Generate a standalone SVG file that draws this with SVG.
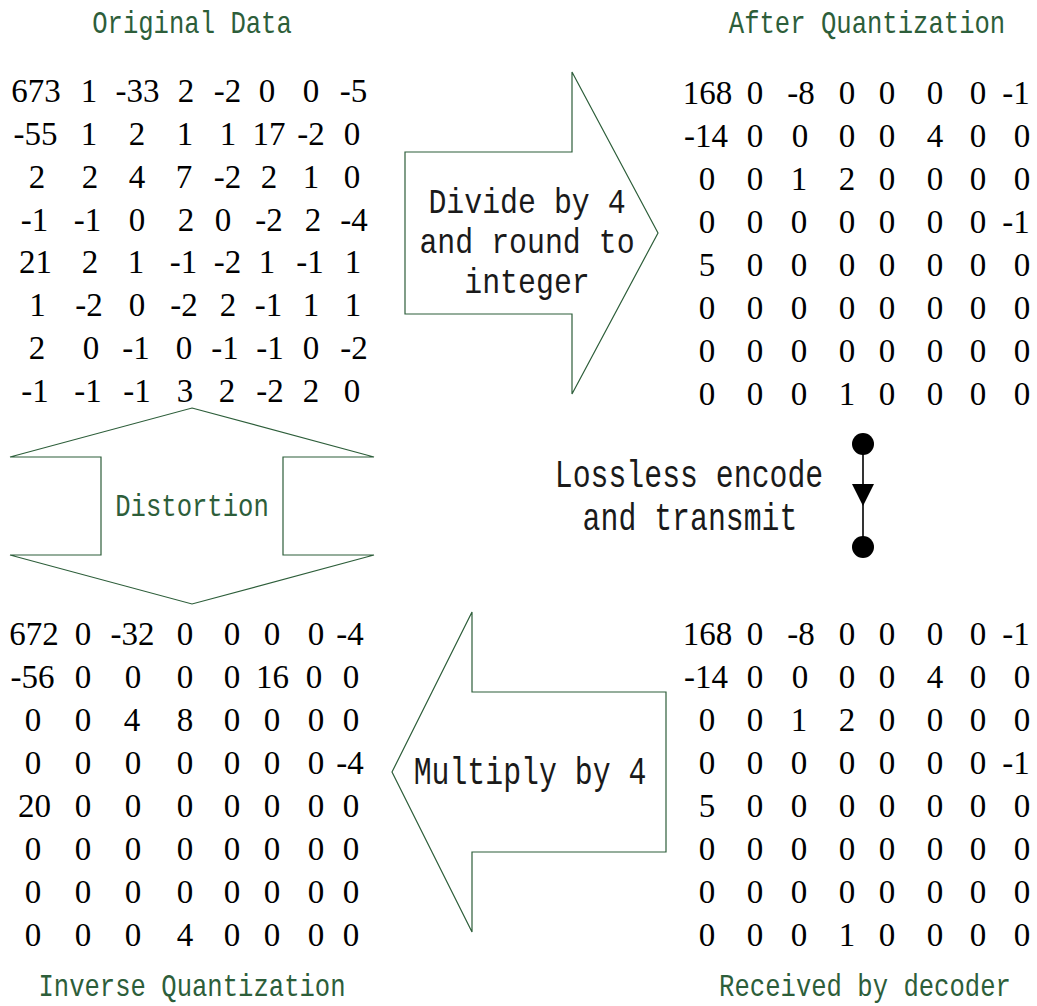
<svg xmlns="http://www.w3.org/2000/svg" width="1037" height="1006" viewBox="0 0 1037 1006">
<defs>
<style>
.num{font-family:"Liberation Serif","Times New Roman",serif;font-size:33px;fill:#000;text-anchor:middle}
.lbl{font-family:"Liberation Mono","Courier New",monospace;font-size:32px;fill:#2d5e3a;text-anchor:middle}
.blk{font-family:"Liberation Mono","Courier New",monospace;font-size:38px;fill:#1a1a1a;text-anchor:middle}
.blk2{font-family:"Liberation Mono","Courier New",monospace;font-size:36px;fill:#1a1a1a;text-anchor:middle}
.arrow{fill:#fff;stroke:#2d5e3a;stroke-width:1.2;stroke-linejoin:miter}
.conn{stroke:#000;stroke-width:1.6;fill:none}
</style>
<marker id="dot" markerUnits="userSpaceOnUse" markerWidth="24" markerHeight="24" refX="12" refY="12" orient="0">
<circle cx="12" cy="12" r="11" fill="#000"/>
</marker>
<marker id="tri" markerUnits="userSpaceOnUse" markerWidth="24" markerHeight="24" refX="12" refY="12" orient="0">
<path d="M1,1 L23,1 L12,23 Z" fill="#000"/>
</marker>
</defs>
<rect width="1037" height="1006" fill="#fff"/>

<g id="title-original"><text class="lbl" transform="translate(192,33) scale(0.8,1)">Original Data</text></g>
<g id="title-after"><text class="lbl" transform="translate(867,33) scale(0.8,1)">After Quantization</text></g>
<g id="title-inverse"><text class="lbl" transform="translate(192,996) scale(0.8,1)">Inverse Quantization</text></g>
<g id="title-received"><text class="lbl" transform="translate(865,996) scale(0.8,1)">Received by decoder</text></g>

<g id="matrix-original">
<text class="num" y="102"><tspan x="36">673</tspan><tspan x="89">1</tspan><tspan x="137.5">-33</tspan><tspan x="186">2</tspan><tspan x="227.5">-2</tspan><tspan x="267">0</tspan><tspan x="311">0</tspan><tspan x="353.5">-5</tspan></text>
<text class="num" y="145"><tspan x="35.5">-55</tspan><tspan x="89">1</tspan><tspan x="137">2</tspan><tspan x="185">1</tspan><tspan x="228">1</tspan><tspan x="269">17</tspan><tspan x="311">-2</tspan><tspan x="352">0</tspan></text>
<text class="num" y="188"><tspan x="37">2</tspan><tspan x="90">2</tspan><tspan x="137">4</tspan><tspan x="184">7</tspan><tspan x="227.5">-2</tspan><tspan x="269">2</tspan><tspan x="311">1</tspan><tspan x="352">0</tspan></text>
<text class="num" y="231"><tspan x="34.5">-1</tspan><tspan x="87.5">-1</tspan><tspan x="137">0</tspan><tspan x="186">2</tspan><tspan x="223">0</tspan><tspan x="269">-2</tspan><tspan x="313">2</tspan><tspan x="354">-4</tspan></text>
<text class="num" y="273"><tspan x="35.5">21</tspan><tspan x="90">2</tspan><tspan x="136">1</tspan><tspan x="183.5">-1</tspan><tspan x="227.5">-2</tspan><tspan x="267">1</tspan><tspan x="310">-1</tspan><tspan x="353">1</tspan></text>
<text class="num" y="316"><tspan x="37.5">1</tspan><tspan x="89">-2</tspan><tspan x="137">0</tspan><tspan x="184">-2</tspan><tspan x="228">2</tspan><tspan x="268.5">-1</tspan><tspan x="311">1</tspan><tspan x="353">1</tspan></text>
<text class="num" y="359"><tspan x="37">2</tspan><tspan x="91">0</tspan><tspan x="136">-1</tspan><tspan x="184">0</tspan><tspan x="225">-1</tspan><tspan x="270">-1</tspan><tspan x="311">0</tspan><tspan x="354">-2</tspan></text>
<text class="num" y="402"><tspan x="35">-1</tspan><tspan x="88">-1</tspan><tspan x="137">-1</tspan><tspan x="185">3</tspan><tspan x="227">2</tspan><tspan x="270">-2</tspan><tspan x="311">2</tspan><tspan x="352">0</tspan></text>
</g>

<g id="matrix-quantized">
<text class="num" y="104"><tspan x="707.5">168</tspan><tspan x="755">0</tspan><tspan x="801">-8</tspan><tspan x="847">0</tspan><tspan x="887">0</tspan><tspan x="935">0</tspan><tspan x="978">0</tspan><tspan x="1016">-1</tspan></text>
<text class="num" y="147"><tspan x="706">-14</tspan><tspan x="755">0</tspan><tspan x="800">0</tspan><tspan x="847">0</tspan><tspan x="887">0</tspan><tspan x="935">4</tspan><tspan x="978">0</tspan><tspan x="1022">0</tspan></text>
<text class="num" y="190"><tspan x="707">0</tspan><tspan x="755">0</tspan><tspan x="799">1</tspan><tspan x="847">2</tspan><tspan x="887">0</tspan><tspan x="935">0</tspan><tspan x="978">0</tspan><tspan x="1022">0</tspan></text>
<text class="num" y="233"><tspan x="707">0</tspan><tspan x="755">0</tspan><tspan x="799">0</tspan><tspan x="847">0</tspan><tspan x="887">0</tspan><tspan x="935">0</tspan><tspan x="978">0</tspan><tspan x="1016">-1</tspan></text>
<text class="num" y="276"><tspan x="707">5</tspan><tspan x="755">0</tspan><tspan x="799">0</tspan><tspan x="847">0</tspan><tspan x="887">0</tspan><tspan x="935">0</tspan><tspan x="978">0</tspan><tspan x="1022">0</tspan></text>
<text class="num" y="319"><tspan x="707">0</tspan><tspan x="755">0</tspan><tspan x="799">0</tspan><tspan x="847">0</tspan><tspan x="887">0</tspan><tspan x="935">0</tspan><tspan x="978">0</tspan><tspan x="1022">0</tspan></text>
<text class="num" y="362"><tspan x="707">0</tspan><tspan x="755">0</tspan><tspan x="799">0</tspan><tspan x="847">0</tspan><tspan x="887">0</tspan><tspan x="935">0</tspan><tspan x="978">0</tspan><tspan x="1022">0</tspan></text>
<text class="num" y="405"><tspan x="707">0</tspan><tspan x="755">0</tspan><tspan x="799">0</tspan><tspan x="847">1</tspan><tspan x="887">0</tspan><tspan x="935">0</tspan><tspan x="978">0</tspan><tspan x="1022">0</tspan></text>
</g>

<g id="matrix-received">
<text class="num" y="645"><tspan x="707.5">168</tspan><tspan x="755">0</tspan><tspan x="801">-8</tspan><tspan x="847">0</tspan><tspan x="887">0</tspan><tspan x="935">0</tspan><tspan x="978">0</tspan><tspan x="1016">-1</tspan></text>
<text class="num" y="688"><tspan x="706">-14</tspan><tspan x="755">0</tspan><tspan x="800">0</tspan><tspan x="847">0</tspan><tspan x="887">0</tspan><tspan x="935">4</tspan><tspan x="978">0</tspan><tspan x="1022">0</tspan></text>
<text class="num" y="731"><tspan x="707">0</tspan><tspan x="755">0</tspan><tspan x="799">1</tspan><tspan x="847">2</tspan><tspan x="887">0</tspan><tspan x="935">0</tspan><tspan x="978">0</tspan><tspan x="1022">0</tspan></text>
<text class="num" y="774"><tspan x="707">0</tspan><tspan x="755">0</tspan><tspan x="799">0</tspan><tspan x="847">0</tspan><tspan x="887">0</tspan><tspan x="935">0</tspan><tspan x="978">0</tspan><tspan x="1016">-1</tspan></text>
<text class="num" y="817"><tspan x="707">5</tspan><tspan x="755">0</tspan><tspan x="799">0</tspan><tspan x="847">0</tspan><tspan x="887">0</tspan><tspan x="935">0</tspan><tspan x="978">0</tspan><tspan x="1022">0</tspan></text>
<text class="num" y="860"><tspan x="707">0</tspan><tspan x="755">0</tspan><tspan x="799">0</tspan><tspan x="847">0</tspan><tspan x="887">0</tspan><tspan x="935">0</tspan><tspan x="978">0</tspan><tspan x="1022">0</tspan></text>
<text class="num" y="903"><tspan x="707">0</tspan><tspan x="755">0</tspan><tspan x="799">0</tspan><tspan x="847">0</tspan><tspan x="887">0</tspan><tspan x="935">0</tspan><tspan x="978">0</tspan><tspan x="1022">0</tspan></text>
<text class="num" y="946"><tspan x="707">0</tspan><tspan x="755">0</tspan><tspan x="799">0</tspan><tspan x="847">1</tspan><tspan x="887">0</tspan><tspan x="935">0</tspan><tspan x="978">0</tspan><tspan x="1022">0</tspan></text>
</g>

<g id="matrix-inverse">
<text class="num" y="645"><tspan x="34">672</tspan><tspan x="83">0</tspan><tspan x="132.5">-32</tspan><tspan x="185">0</tspan><tspan x="232">0</tspan><tspan x="272">0</tspan><tspan x="316">0</tspan><tspan x="350">-4</tspan></text>
<text class="num" y="688"><tspan x="32.5">-56</tspan><tspan x="83">0</tspan><tspan x="133">0</tspan><tspan x="185">0</tspan><tspan x="232">0</tspan><tspan x="272.5">16</tspan><tspan x="314">0</tspan><tspan x="351">0</tspan></text>
<text class="num" y="731"><tspan x="33">0</tspan><tspan x="83">0</tspan><tspan x="132">4</tspan><tspan x="185">8</tspan><tspan x="232">0</tspan><tspan x="272">0</tspan><tspan x="316">0</tspan><tspan x="351">0</tspan></text>
<text class="num" y="774"><tspan x="33">0</tspan><tspan x="83">0</tspan><tspan x="133">0</tspan><tspan x="185">0</tspan><tspan x="232">0</tspan><tspan x="272">0</tspan><tspan x="316">0</tspan><tspan x="350">-4</tspan></text>
<text class="num" y="817"><tspan x="34.5">20</tspan><tspan x="83">0</tspan><tspan x="133">0</tspan><tspan x="185">0</tspan><tspan x="232">0</tspan><tspan x="272">0</tspan><tspan x="316">0</tspan><tspan x="351">0</tspan></text>
<text class="num" y="860"><tspan x="33">0</tspan><tspan x="83">0</tspan><tspan x="133">0</tspan><tspan x="185">0</tspan><tspan x="232">0</tspan><tspan x="272">0</tspan><tspan x="316">0</tspan><tspan x="351">0</tspan></text>
<text class="num" y="903"><tspan x="33">0</tspan><tspan x="83">0</tspan><tspan x="133">0</tspan><tspan x="185">0</tspan><tspan x="232">0</tspan><tspan x="272">0</tspan><tspan x="316">0</tspan><tspan x="351">0</tspan></text>
<text class="num" y="946"><tspan x="33">0</tspan><tspan x="83">0</tspan><tspan x="133">0</tspan><tspan x="185">4</tspan><tspan x="232">0</tspan><tspan x="272">0</tspan><tspan x="316">0</tspan><tspan x="351">0</tspan></text>
</g>

<g id="arrow-divide">
<path class="arrow" d="M405,152 L572,152 L572,72 L658,233 L572,394 L572,314 L405,314 Z"/>
<text class="blk2" transform="translate(527,213) scale(0.83,1)">Divide by 4</text>
<text class="blk2" transform="translate(527,253) scale(0.83,1)">and round to</text>
<text class="blk2" transform="translate(527,293) scale(0.83,1)">integer</text>
</g>

<g id="arrow-distortion">
<path class="arrow" d="M192,408 L374,457 L283,457 L283,555 L374,555 L192,604 L10,555 L101,555 L101,457 L10,457 Z"/>
<text class="lbl" transform="translate(192,516) scale(0.8,1)">Distortion</text>
</g>

<g id="arrow-multiply">
<path class="arrow" d="M666,692 L472,692 L472,612 L392,772 L472,932 L472,852 L666,852 Z"/>
<text class="blk" transform="translate(530,784) scale(0.785,1)">Multiply by 4</text>
</g>

<g id="label-lossless">
<text class="blk" transform="translate(689,487) scale(0.785,1)">Lossless encode</text>
<text class="blk" transform="translate(690,530) scale(0.785,1)">and transmit</text>
</g>

<g id="connectors">
<path class="conn" d="M863,444 L863,495 L863,547" marker-start="url(#dot)" marker-mid="url(#tri)" marker-end="url(#dot)"/>
</g>
</svg>
